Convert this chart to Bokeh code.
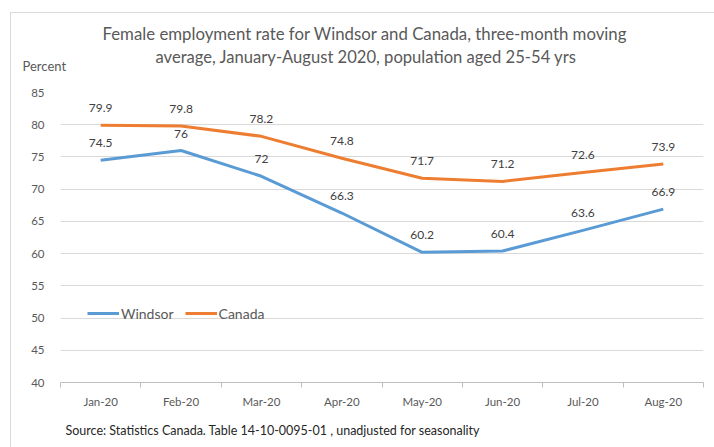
from bokeh.plotting import figure
from bokeh.models import (Range1d, FixedTicker, Legend, LegendItem,
                          ColumnDataSource, Title, InlineStyleSheet)
from bokeh.core.properties import value
from bokeh.embed import file_html
from bokeh.resources import INLINE

months = ["Jan-20", "Feb-20", "Mar-20", "Apr-20", "May-20", "Jun-20", "Jul-20", "Aug-20"]
windsor = [74.5, 76, 72, 66.3, 60.2, 60.4, 63.6, 66.9]
canada = [79.9, 79.8, 78.2, 74.8, 71.7, 71.2, 72.6, 73.9]
y_ticks = [40, 45, 50, 55, 60, 65, 70, 75, 80, 85]

FONT = "Lato"
GREY = "#595959"
BLUE = "#5B9BD5"
ORANGE = "#ED7D31"

xs = list(range(len(months)))

p = figure(width=714, height=447, output_backend="svg", toolbar_location=None,
           x_range=Range1d(-0.5, len(months) - 0.5), y_range=Range1d(40, 85),
           min_border_left=60, min_border_right=11, min_border_top=92,
           min_border_bottom=10)
p.outline_line_color = None
p.background_fill_color = "white"
p.border_fill_color = "white"
p.stylesheets = [InlineStyleSheet(css=(
    ":host::after { content: ''; position: absolute; left: 10px; top: 12px; "
    "width: 720px; height: 450px; border: 1px solid #d9d9d9; pointer-events: none; }"))]

# axes
p.xaxis.ticker = FixedTicker(ticks=xs, minor_ticks=[i - 0.5 for i in range(len(months) + 1)])
p.xaxis.major_label_overrides = {i: m for i, m in enumerate(months)}
p.xaxis.major_tick_line_color = None
p.xaxis.major_tick_out = 0
p.xaxis.major_tick_in = 0
p.xaxis.minor_tick_out = 5
p.xaxis.minor_tick_in = 0
p.xaxis.minor_tick_line_color = "#bfbfbf"
p.xaxis.axis_line_color = "#bfbfbf"
p.xaxis.major_label_standoff = 7
p.xaxis.major_label_text_font = FONT
p.xaxis.major_label_text_font_size = "11.5px"
p.xaxis.major_label_text_color = GREY

p.yaxis.ticker = FixedTicker(ticks=y_ticks)
p.yaxis.axis_line_color = None
p.yaxis.major_tick_line_color = None
p.yaxis.minor_tick_line_color = None
p.yaxis.major_label_standoff = 10
p.yaxis.major_label_text_font = FONT
p.yaxis.major_label_text_font_size = "11.5px"
p.yaxis.major_label_text_color = GREY

p.xgrid.grid_line_color = None
p.ygrid.grid_line_color = "#d9d9d9"
p.ygrid.ticker = FixedTicker(ticks=y_ticks)

src = ColumnDataSource(dict(x=xs, w=windsor, c=canada,
                            wl=[f"{v:g}" for v in windsor],
                            cl=[f"{v:g}" for v in canada]))

rw = p.line("x", "w", source=src, line_color=BLUE, line_width=3)
rc = p.line("x", "c", source=src, line_color=ORANGE, line_width=3)

for col, lab in (("w", "wl"), ("c", "cl")):
    p.text("x", col, text=lab, source=src, y_offset=-17,
           text_align="center", text_baseline="middle",
           text_font=value(FONT), text_font_size="12px", text_color="#404040")

legend = Legend(items=[LegendItem(label="Windsor", renderers=[rw]),
                       LegendItem(label="Canada", renderers=[rc])],
                orientation="horizontal", location=(27, 59),
                background_fill_alpha=0, border_line_color=None,
                label_text_font=FONT, label_text_font_size="14px",
                label_text_color=GREY, glyph_width=32, label_standoff=2,
                spacing=11, padding=0, margin=0)
p.add_layout(legend)

# panels above the frame (first added is closest to the frame)
p.add_layout(Title(text=" ", text_font_size="1px", standoff=18), "above")
p.add_layout(Title(text="Percent", align="left", offset=-38, text_font=FONT,
                   text_font_size="13px", text_font_style="normal",
                   text_color=GREY, standoff=-4), "above")
p.add_layout(Title(text="average, January-August 2020, population aged 25-54 yrs",
                   align="left", offset=95, text_font=FONT,
                   text_font_size="16.6px", text_font_style="normal",
                   text_color=GREY, standoff=-18), "above")
p.add_layout(Title(text="Female employment rate for Windsor and Canada, three-month moving",
                   align="left", offset=42, text_font=FONT,
                   text_font_size="16.8px", text_font_style="normal",
                   text_color=GREY, standoff=20), "above")

p.add_layout(Title(text="Source: Statistics Canada. Table 14-10-0095-01 , unadjusted for seasonality",
                   align="left", offset=5, text_font=FONT,
                   text_font_size="12.5px", text_font_style="normal",
                   text_color="#262626", standoff=20), "below")

open("out.html", "w").write(file_html(p, INLINE))
